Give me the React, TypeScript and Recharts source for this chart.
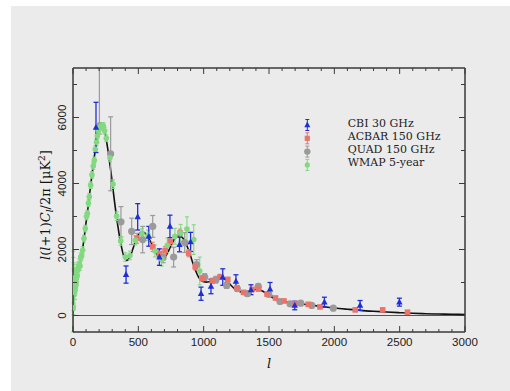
import React from 'react';
import { ComposedChart, Line, Scatter, XAxis, YAxis, ErrorBar, ReferenceLine, Legend } from 'recharts';

// ---- theory curve ----
const theoryL = [2, 5, 10, 15, 20, 30, 40, 50, 60, 70, 80, 90, 100, 110, 120, 130, 140, 150, 160, 170, 180, 190, 200, 210, 220, 230, 240, 250, 260, 270, 280, 290, 300, 310, 320, 330, 340, 350, 360, 370, 380, 390, 400, 410, 420, 430, 440, 450, 460, 470, 480, 490, 500, 520, 540, 560, 580, 600, 620, 640, 660, 680, 700, 720, 740, 760, 780, 800, 820, 840, 860, 880, 900, 920, 940, 960, 980, 1000, 1020, 1040, 1060, 1080, 1100, 1120, 1140, 1160, 1180, 1200, 1220, 1240, 1260, 1280, 1300, 1320, 1340, 1360, 1380, 1400, 1420, 1440, 1460, 1480, 1500, 1520, 1540, 1560, 1580, 1600, 1650, 1700, 1750, 1800, 1850, 1900, 1950, 2000, 2100, 2200, 2300, 2400, 2500, 2600, 2700, 2800, 2900, 3000];
const theoryD = [1000, 900, 880, 920, 980, 1130, 1330, 1550, 1750, 1920, 2200, 2500, 2820, 3100, 3450, 3780, 4100, 4400, 4720, 5000, 5280, 5500, 5660, 5730, 5750, 5720, 5620, 5450, 5200, 4950, 4650, 4350, 4050, 3700, 3380, 3080, 2800, 2540, 2300, 2100, 1920, 1790, 1710, 1670, 1680, 1730, 1810, 1920, 2040, 2160, 2280, 2380, 2450, 2520, 2520, 2460, 2340, 2190, 2020, 1870, 1760, 1720, 1760, 1870, 2030, 2200, 2330, 2400, 2410, 2350, 2220, 2030, 1800, 1560, 1340, 1170, 1060, 1020, 1010, 1020, 1050, 1090, 1130, 1150, 1140, 1100, 1030, 950, 870, 800, 750, 720, 705, 710, 730, 760, 780, 790, 785, 760, 720, 670, 615, 560, 515, 480, 455, 435, 400, 375, 350, 325, 300, 275, 250, 228, 190, 155, 128, 105, 85, 68, 55, 45, 38, 32];

// ---- CBI 30 GHz ----
const cbiL = [176, 406, 495, 580, 661, 742, 815, 900, 980, 1056, 1146, 1247, 1362, 1508, 1697, 1924, 2197, 2498];
const cbiV = [5700, 1240, 2990, 2400, 1770, 2700, 2150, 2230, 660, 880, 1165, 1034, 781, 800, 304, 404, 304, 404];
const cbiE = [760, 260, 400, 300, 250, 340, 220, 290, 200, 220, 250, 200, 150, 200, 130, 150, 150, 120];

// ---- ACBAR 150 GHz ----
const acbarL = [490, 610, 660, 705, 745, 820, 885, 935, 990, 1065, 1125, 1185, 1255, 1305, 1370, 1420, 1485, 1550, 1615, 1700, 1800, 1890, 2160, 2370, 2560];
const acbarV = [2340, 2080, 1880, 1970, 2240, 2500, 1890, 1480, 1130, 1050, 1170, 1090, 840, 700, 790, 800, 650, 530, 440, 360, 340, 260, 170, 170, 100];
const acbarE = [150, 140, 130, 120, 120, 120, 110, 100, 90, 80, 80, 70, 60, 60, 60, 60, 50, 50, 50, 45, 45, 45, 50, 50, 50];

// ---- QUAD 150 GHz ----
const quadL = [202, 288, 367, 449, 533, 610, 690, 770, 855, 946, 1008, 1094, 1176, 1258, 1334, 1418, 1498, 1584, 1661, 1743, 1827, 1992];
const quadV = [5750, 4900, 2840, 2550, 2300, 2700, 1760, 1770, 2210, 1540, 1165, 1085, 912, 810, 660, 880, 640, 425, 356, 374, 304, 222];
const quadLo = [250, 1120, 460, 400, 400, 330, 160, 300, 300, 150, 100, 100, 90, 80, 80, 80, 60, 50, 50, 50, 40, 40];
const quadHi = [1750, 1120, 460, 400, 400, 330, 160, 300, 300, 150, 100, 100, 90, 80, 80, 80, 60, 50, 50, 50, 40, 40];

// ---- WMAP 5-year ----
const wmapL = [2, 3, 4, 5, 6, 7, 8, 9, 10, 11, 12, 13, 14, 15, 16, 17, 18, 19, 20, 22, 24, 26, 28, 32, 36, 41, 48, 54, 59, 66, 74, 84, 94, 103, 110, 118, 125, 135, 145, 155, 163, 171, 180, 186, 194, 201, 209, 217, 225, 232, 242, 255, 283, 306, 334, 365, 400, 436, 477, 528, 574, 627, 679, 722, 780, 824, 872, 924, 970];
const wmapV = [230, 1050, 720, 1000, 850, 1100, 700, 950, 1050, 820, 980, 1100, 760, 900, 1000, 850, 1150, 900, 980, 1080, 950, 1150, 1270, 1200, 1380, 1470, 1570, 1500, 1770, 1800, 1975, 2330, 2635, 3000, 3090, 3400, 3600, 3950, 4260, 4530, 4700, 5040, 5250, 5440, 5600, 5675, 5720, 5745, 5740, 5745, 5600, 5370, 4780, 3980, 3010, 2260, 1770, 1820, 2280, 2480, 2430, 1955, 1700, 2130, 2400, 2500, 2620, 2300, 1350];
const wmapLo = [730, 900, 700, 600, 500, 450, 400, 380, 350, 330, 310, 300, 280, 270, 260, 250, 240, 230, 220, 210, 200, 190, 180, 170, 160, 150, 140, 130, 120, 115, 110, 100, 100, 100, 100, 100, 100, 100, 100, 100, 100, 100, 100, 100, 100, 100, 100, 100, 100, 100, 100, 100, 120, 130, 130, 130, 130, 130, 140, 150, 160, 180, 200, 220, 240, 260, 370, 450, 420];
const wmapHi = [1530, 900, 700, 600, 500, 450, 400, 380, 350, 330, 310, 300, 280, 270, 260, 250, 240, 230, 220, 210, 200, 190, 180, 170, 160, 150, 140, 130, 120, 115, 110, 100, 100, 100, 100, 100, 100, 100, 100, 100, 100, 100, 100, 100, 100, 100, 100, 100, 100, 100, 100, 100, 120, 130, 130, 130, 130, 130, 140, 150, 160, 180, 200, 220, 240, 260, 370, 450, 420];

// ---- axes ----
const xTicks = [0, 100, 200, 300, 400, 500, 600, 700, 800, 900, 1000, 1100, 1200, 1300, 1400, 1500, 1600, 1700, 1800, 1900, 2000, 2100, 2200, 2300, 2400, 2500, 2600, 2700, 2800, 2900, 3000];
const xLabels = [0, 500, 1000, 1500, 2000, 2500, 3000];
const yTicks = [0, 1000, 2000, 3000, 4000, 5000, 6000, 7000];
const yLabels = [0, 2000, 4000, 6000];

const legendNames = ['CBI 30 GHz', 'ACBAR 150 GHz', 'QUAD 150 GHz', 'WMAP 5-year'];

const BLUE = '#1f2fd6';
const RED = '#e8746c';
const GRAY = '#9a9a9a';
const GREEN = '#82d982';
const FRAME = '#3a3a3a';

const theory = theoryL.map((l, i) => ({ l, v: theoryD[i] }));
const cbi = cbiL.map((l, i) => ({ l, v: cbiV[i], e: cbiE[i] }));
const acbar = acbarL.map((l, i) => ({ l, v: acbarV[i], e: acbarE[i] }));
const quad = quadL.map((l, i) => ({ l, v: quadV[i], e: [quadLo[i], quadHi[i]] }));
const wmap = wmapL.map((l, i) => ({ l, v: wmapV[i], e: [wmapLo[i], wmapHi[i]] }));

const Tri = (p: any) => {
  const { cx, cy } = p;
  if (cx == null || cy == null) return null;
  return <path d={`M${cx},${cy - 3.6}L${cx + 3.2},${cy + 2.4}L${cx - 3.2},${cy + 2.4}Z`} fill={BLUE} />;
};
const Sq = (p: any) => {
  const { cx, cy } = p;
  if (cx == null || cy == null) return null;
  return <rect x={cx - 2.8} y={cy - 2.8} width={5.6} height={5.6} fill={RED} />;
};
const QuadDot = (p: any) => {
  const { cx, cy } = p;
  if (cx == null || cy == null) return null;
  return <circle cx={cx} cy={cy} r={3.6} fill={GRAY} />;
};
const GreenDot = (p: any) => {
  const { cx, cy } = p;
  if (cx == null || cy == null) return null;
  return <circle cx={cx} cy={cy} r={2.8} fill={GREEN} />;
};

const BottomTick = (p: any) => {
  const { x, y, payload } = p;
  const major = xLabels.includes(payload.value);
  return (
    <g>
      <line x1={x} x2={x} y1={y} y2={y - (major ? 6 : 3)} stroke={FRAME} strokeWidth={1} />
      {major && (
        <text x={x} y={y + 14} textAnchor="middle" fontFamily="'Liberation Sans', Arial, sans-serif" fontSize={11.6} fill="#222">
          {payload.value}
        </text>
      )}
    </g>
  );
};
const TopTick = (p: any) => {
  const { x, y, payload } = p;
  const major = xLabels.includes(payload.value);
  return <line x1={x} x2={x} y1={y} y2={y + (major ? 6 : 3)} stroke={FRAME} strokeWidth={1} />;
};
const LeftTick = (p: any) => {
  const { x, y, payload } = p;
  const major = yLabels.includes(payload.value);
  const tx = x - 7.5;
  return (
    <g>
      <line x1={x} x2={x + (major ? 6 : 4)} y1={y} y2={y} stroke={FRAME} strokeWidth={1} />
      {major && (
        <text x={tx} y={y} transform={`rotate(-90 ${tx} ${y})`} textAnchor="middle" fontFamily="'Liberation Sans', Arial, sans-serif" fontSize={11.6} fill="#222">
          {payload.value}
        </text>
      )}
    </g>
  );
};
const RightTick = (p: any) => {
  const { x, y, payload } = p;
  const major = yLabels.includes(payload.value);
  return <line x1={x} x2={x - (major ? 6 : 4)} y1={y} y2={y} stroke={FRAME} strokeWidth={1} />;
};

const YTitle = (p: any) => {
  const vb = p.viewBox || {};
  const cx = 49.5;
  const cy = (vb.y ?? 68) + (vb.height ?? 264) / 2 + 5;
  return (
    <text x={cx} y={cy} transform={`rotate(-90 ${cx} ${cy})`} textAnchor="middle" fontFamily="'DejaVu Serif', serif" fontSize={13} fill="#111">
      <tspan fontStyle="italic">l</tspan>(<tspan fontStyle="italic">l</tspan>+1)<tspan fontStyle="italic">C</tspan>
      <tspan fontStyle="italic" fontSize={9} dy={3}>l</tspan>
      <tspan dy={-3}>/2π [μK</tspan>
      <tspan fontSize={9} dy={-5}>2</tspan>
      <tspan dy={5}>]</tspan>
    </text>
  );
};
const XTitle = (p: any) => {
  const vb = p.viewBox || {};
  const cx = (vb.x ?? 73) + (vb.width ?? 392) / 2;
  return (
    <text x={cx} y={368} textAnchor="middle" fontFamily="'DejaVu Serif', serif" fontStyle="italic" fontSize={13} fill="#111">
      l
    </text>
  );
};

const LegendBox = () => {
  const markers = [
    (x: number, y: number) => <path d={`M${x},${y - 3.4}L${x + 3},${y + 2.2}L${x - 3},${y + 2.2}Z`} fill={BLUE} />,
    (x: number, y: number) => <rect x={x - 2.6} y={y - 2.6} width={5.2} height={5.2} fill={RED} />,
    (x: number, y: number) => <circle cx={x} cy={y} r={3.2} fill={GRAY} />,
    (x: number, y: number) => <circle cx={x} cy={y} r={2.6} fill={GREEN} />,
  ];
  const cols = [BLUE, RED, GRAY, GREEN];
  return (
    <svg width={160} height={60} style={{ display: 'block', overflow: 'visible' }}>
      {legendNames.map((name, i) => {
        const my = 10 + 13.3 * i;
        const ty = 8.3 + 12.8 * i;
        const mx = 7.3;
        return (
          <g key={name}>
            <line x1={mx} x2={mx} y1={my - 5.5} y2={my + 5.5} stroke={cols[i]} strokeWidth={1} />
            <line x1={mx - 2} x2={mx + 2} y1={my - 5.5} y2={my - 5.5} stroke={cols[i]} strokeWidth={1} />
            <line x1={mx - 2} x2={mx + 2} y1={my + 5.5} y2={my + 5.5} stroke={cols[i]} strokeWidth={1} />
            {markers[i](mx, my)}
            <text x={47.7} y={ty + 4} fontFamily="'DejaVu Serif', serif" fontSize={11} fill="#222">
              {name}
            </text>
          </g>
        );
      })}
    </svg>
  );
};

export default function App() {
  return (
    <div style={{ position: 'absolute', left: 0, top: 0, width: 510, height: 391, background: '#ffffff', overflow: 'hidden' }}>
      <div style={{ position: 'absolute', left: 11, top: 6, width: 499, height: 385, background: '#ebebeb' }} />
      <div style={{ position: 'absolute', left: 0, top: 0 }}>
        <ComposedChart width={510} height={391} margin={{ top: 67, right: 44, bottom: 0, left: 0 }}>
          <XAxis
            dataKey="l"
            type="number"
            domain={[0, 3000]}
            allowDataOverflow
            ticks={xTicks}
            interval={0}
            height={59}
            tickSize={0}
            tickMargin={0}
            tickLine={false}
            tick={<BottomTick />}
            axisLine={{ stroke: FRAME, strokeWidth: 1.5 }}
            label={<XTitle />}
          />
          <XAxis
            xAxisId="top"
            dataKey="l"
            orientation="top"
            type="number"
            domain={[0, 3000]}
            allowDataOverflow
            ticks={xTicks}
            interval={0}
            height={1}
            tickSize={0}
            tickMargin={0}
            tickLine={false}
            tick={<TopTick />}
            axisLine={{ stroke: FRAME, strokeWidth: 1.5 }}
          />
          <YAxis
            dataKey="v"
            type="number"
            domain={[-500, 7500]}
            allowDataOverflow
            ticks={yTicks}
            interval={0}
            width={73}
            tickSize={0}
            tickMargin={0}
            tickLine={false}
            tick={<LeftTick />}
            axisLine={{ stroke: FRAME, strokeWidth: 1.5 }}
            label={<YTitle />}
          />
          <YAxis
            yAxisId="right"
            dataKey="v"
            orientation="right"
            type="number"
            domain={[-500, 7500]}
            allowDataOverflow
            ticks={yTicks}
            interval={0}
            width={1}
            tickSize={0}
            tickMargin={0}
            tickLine={false}
            tick={<RightTick />}
            axisLine={{ stroke: FRAME, strokeWidth: 1.5 }}
          />
          <ReferenceLine y={0} stroke="#555" strokeWidth={1} ifOverflow="hidden" />
          <Line data={theory} xAxisId="top" yAxisId="right" dataKey="v" type="monotone" stroke="#111" strokeWidth={1.6} dot={false} isAnimationActive={false} />
          <Scatter data={quad} dataKey="v" shape={<QuadDot />} isAnimationActive={false}>
            <ErrorBar dataKey="e" direction="y" width={2.5} stroke={GRAY} strokeWidth={1.2} isAnimationActive={false} />
          </Scatter>
          <Scatter data={acbar} dataKey="v" shape={<Sq />} isAnimationActive={false}>
            <ErrorBar dataKey="e" direction="y" width={2} stroke={RED} strokeWidth={1} isAnimationActive={false} />
          </Scatter>
          <Scatter data={wmap} dataKey="v" shape={<GreenDot />} isAnimationActive={false}>
            <ErrorBar dataKey="e" direction="y" width={2} stroke={GREEN} strokeWidth={1.1} isAnimationActive={false} />
          </Scatter>
          <Scatter data={cbi} dataKey="v" shape={<Tri />} isAnimationActive={false}>
            <ErrorBar dataKey="e" direction="y" width={2.5} stroke={BLUE} strokeWidth={1.3} isAnimationActive={false} />
          </Scatter>
          <Legend
            layout="vertical"
            align="center"
            verticalAlign="middle"
            content={() => <LegendBox />}
            wrapperStyle={{ position: 'absolute', left: 300, top: 115, width: 160, height: 60 }}
          />
        </ComposedChart>
      </div>
    </div>
  );
}
